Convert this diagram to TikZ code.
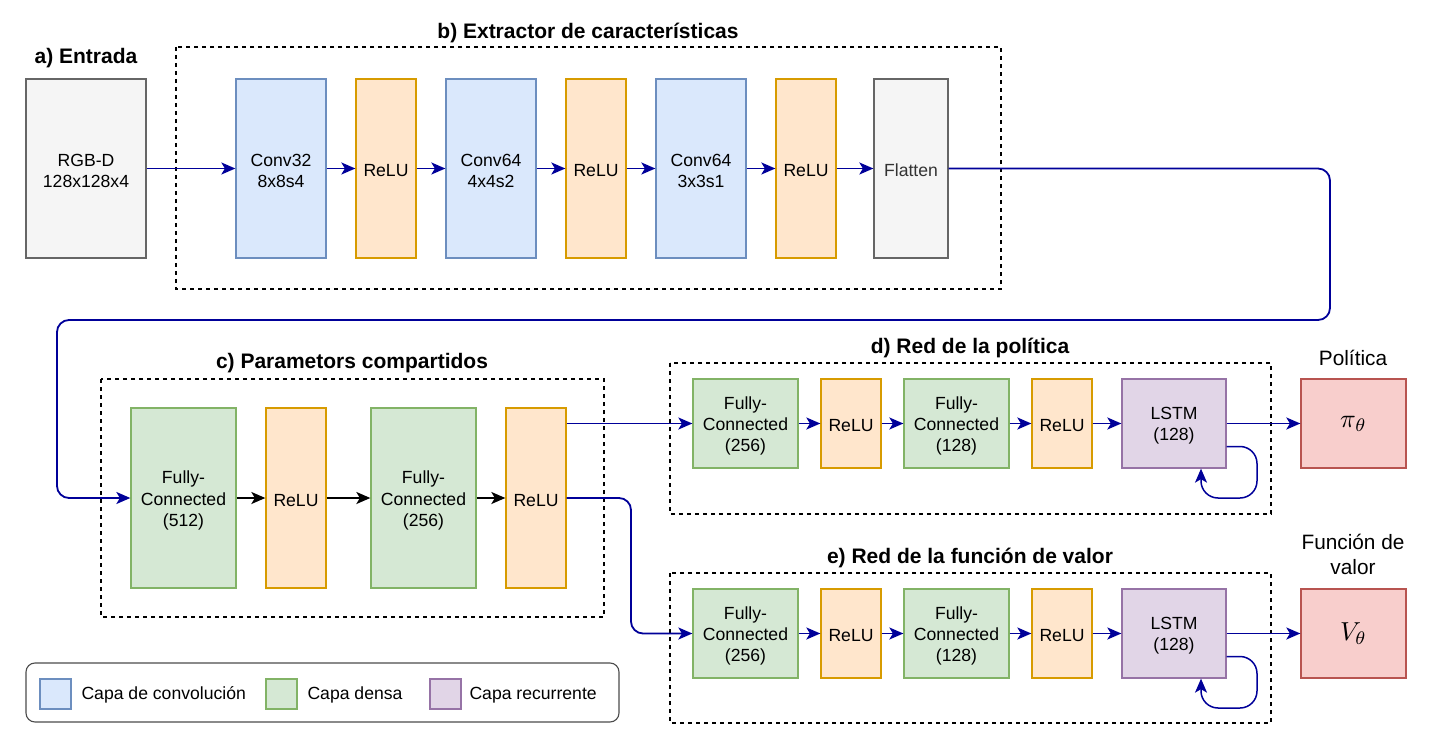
\documentclass[tikz,border=0pt]{standalone}
\usepackage{fontspec}
\usepackage{graphicx}
\setmainfont{Liberation Sans}
\usetikzlibrary{arrows.meta}
\definecolor{bfill}{HTML}{DAE8FC}\definecolor{bline}{HTML}{6C8EBF}
\definecolor{ofill}{HTML}{FFE6CC}\definecolor{oline}{HTML}{D79B00}
\definecolor{gfill}{HTML}{D5E8D4}\definecolor{gline}{HTML}{82B366}
\definecolor{pfill}{HTML}{E1D5E7}\definecolor{pline}{HTML}{9673A6}
\definecolor{rfill}{HTML}{F8CECC}\definecolor{rline}{HTML}{B85450}
\definecolor{grfill}{HTML}{F5F5F5}\definecolor{grline}{HTML}{666666}\definecolor{grtext}{HTML}{333333}
\definecolor{arrc}{HTML}{000099}
\tikzset{
  lbl/.style={font=\fontsize{17.6}{21.3}\selectfont, align=center},
  tx/.style={label={[lbl, yshift=-2.5pt]center:#1}},
  gtx/.style={label={[lbl, text=grtext, yshift=-2pt]center:#1}},
  blk/.style={draw, line width=1.3pt, inner sep=0pt},
  conv/.style={blk, fill=bfill, draw=bline},
  relu/.style={blk, fill=ofill, draw=oline},
  dense/.style={blk, fill=gfill, draw=gline},
  rec/.style={blk, fill=pfill, draw=pline},
  outb/.style={blk, fill=rfill, draw=rline, font=\fontsize{10}{12}\selectfont},
  grayb/.style={blk, fill=grfill, draw=grline},
  grp/.style={draw, dashed, dash pattern=on 4pt off 4pt, line width=1.3pt},
  ttl/.style={font=\fontsize{21}{25}\selectfont\bfseries},
  side/.style={align=center, font=\fontsize{20.8}{25}\selectfont},
  arr/.style={draw=arrc, line width=1.8pt, -{Stealth[length=14pt,width=12pt,inset=3.5pt]}},
  karr/.style={draw=black, line width=1.8pt, -{Stealth[length=14pt,width=12pt,inset=3.5pt]}},
}
\begin{document}
\begin{tikzpicture}[x=1pt,y=-1pt]
\useasboundingbox (0,0) rectangle (1440,743);
% groups
\draw[grp] (176,47) rectangle (1001,289);
\draw[grp] (101,379) rectangle (604,617);
\draw[grp] (670,363) rectangle (1271,514);
\draw[grp] (670,573) rectangle (1271,723);
% titles
\node[ttl] (ta) at (86,58) {a) Entrada};
\node[ttl] (tb) at (588,33) {b) Extractor de características};
\node[ttl] (tc) at (352,363) {c) Parametors compartidos};
\node[ttl] (td) at (970,348) {d) Red de la política};
\node[ttl] (te) at (970,558) {e) Red de la función de valor};
\node[side] (tp) at (1353,358) {Política};
\node[side] (tv) at (1353,554) {Función de\\valor};
% a/b row
\node[grayb, tx={RGB-D\\128x128x4}, minimum width=120pt, minimum height=179pt] (in) at (86,168.5) {};
\node[conv, tx={Conv32\\8x8s4}, minimum width=90pt, minimum height=179pt] (c1) at (281,168.5) {};
\node[relu, tx=ReLU, minimum width=60pt, minimum height=179pt] (r1) at (386,168.5) {};
\node[conv, tx={Conv64\\4x4s2}, minimum width=90pt, minimum height=179pt] (c2) at (491,168.5) {};
\node[relu, tx=ReLU, minimum width=60pt, minimum height=179pt] (r2) at (596,168.5) {};
\node[conv, tx={Conv64\\3x3s1}, minimum width=90pt, minimum height=179pt] (c3) at (701,168.5) {};
\node[relu, tx=ReLU, minimum width=60pt, minimum height=179pt] (r3) at (806,168.5) {};
\node[grayb, gtx=Flatten, minimum width=74pt, minimum height=179pt] (fl) at (911,168.5) {};
\draw[arr] (in) -- (c1);
\draw[arr] (c1) -- (r1);
\draw[arr] (r1) -- (c2);
\draw[arr] (c2) -- (r2);
\draw[arr] (r2) -- (c3);
\draw[arr] (c3) -- (r3);
\draw[arr] (r3) -- (fl);
% c row
\node[dense, tx={Fully-\\Connected\\(512)}, minimum width=105pt, minimum height=180pt] (f1) at (183.5,498) {};
\node[relu, tx=ReLU, minimum width=60pt, minimum height=180pt] (q1) at (296,498) {};
\node[dense, tx={Fully-\\Connected\\(256)}, minimum width=105pt, minimum height=180pt] (f2) at (423.5,498) {};
\node[relu, tx=ReLU, minimum width=60pt, minimum height=180pt] (q2) at (536,498) {};
\draw[karr] (f1) -- (q1);
\draw[karr] (q1) -- (f2);
\draw[karr] (f2) -- (q2);
\coordinate (k1) at (1330,168.5);
\coordinate (k2) at (1330,320);
\coordinate (k3) at (57,320);
\coordinate (k4) at (57,498);
\draw[arr, rounded corners=12pt] (fl.east) -- (k1) -- (k2) -- (k3) -- (k4) -- (f1.west);
% d row
\node[dense, tx={Fully-\\Connected\\(256)}, minimum width=105pt, minimum height=89pt] (d1) at (745.5,423.5) {};
\node[relu, tx=ReLU, minimum width=60pt, minimum height=89pt] (d2) at (851,423.5) {};
\node[dense, tx={Fully-\\Connected\\(128)}, minimum width=105pt, minimum height=89pt] (d3) at (956.5,423.5) {};
\node[relu, tx=ReLU, minimum width=60pt, minimum height=89pt] (d4) at (1062,423.5) {};
\node[rec, tx={LSTM\\(128)}, minimum width=104pt, minimum height=89pt] (d5) at (1174,423.5) {};
\node[outb, minimum width=105pt, minimum height=89pt] (pi) at (1353.5,423.5) {\scalebox{2.6}{$\pi_\theta$}};
\draw[arr] (d1) -- (d2);
\draw[arr] (d2) -- (d3);
\draw[arr] (d3) -- (d4);
\draw[arr] (d4) -- (d5);
\draw[arr] (d5) -- (pi);
\draw[arr] (q2.east |- d1.west) -- (d1.west);
% e row
\node[dense, tx={Fully-\\Connected\\(256)}, minimum width=105pt, minimum height=89pt] (e1) at (745.5,633.5) {};
\node[relu, tx=ReLU, minimum width=60pt, minimum height=89pt] (e2) at (851,633.5) {};
\node[dense, tx={Fully-\\Connected\\(128)}, minimum width=105pt, minimum height=89pt] (e3) at (956.5,633.5) {};
\node[relu, tx=ReLU, minimum width=60pt, minimum height=89pt] (e4) at (1062,633.5) {};
\node[rec, tx={LSTM\\(128)}, minimum width=104pt, minimum height=89pt] (e5) at (1174,633.5) {};
\node[outb, minimum width=105pt, minimum height=89pt] (vv) at (1353.5,633.5) {\scalebox{2.6}{$V_\theta$}};
\draw[arr] (e1) -- (e2);
\draw[arr] (e2) -- (e3);
\draw[arr] (e3) -- (e4);
\draw[arr] (e4) -- (e5);
\draw[arr] (e5) -- (vv);
\coordinate (m1) at (631,498);
\coordinate (m2) at (631,633.5);
\draw[arr, rounded corners=12pt] (q2.east) -- (m1) -- (m2) -- (e1.west);
% loops
\coordinate (la1) at (1257,446.5);
\coordinate (la2) at (1257,498);
\coordinate (la3) at (1201,498);
\draw[arr, line width=1.5pt, rounded corners=17pt] ([yshift=-23pt]d5.east) -- (la1) -- (la2) -- (la3) -- (d5.south -| la3);
\coordinate (lb1) at (1257,656.5);
\coordinate (lb2) at (1257,708);
\coordinate (lb3) at (1201,708);
\draw[arr, line width=1.5pt, rounded corners=17pt] ([yshift=-23pt]e5.east) -- (lb1) -- (lb2) -- (lb3) -- (e5.south -| lb3);
% legend
\draw[line width=1.1pt, draw=black!70, rounded corners=9pt] (26,663) rectangle (619,722);
\node[conv, minimum width=31pt, minimum height=30pt] (s1) at (55.5,694) {};
\node[lbl, anchor=west] (t1) at (78,695) {Capa de convolución};
\node[dense, minimum width=31pt, minimum height=30pt] (s2) at (281.5,694) {};
\node[lbl, anchor=west] (t2) at (304,695) {Capa densa};
\node[rec, minimum width=31pt, minimum height=30pt] (s3) at (445.5,694) {};
\node[lbl, anchor=west] (t3) at (466,695) {Capa recurrente};
\end{tikzpicture}
\end{document}
